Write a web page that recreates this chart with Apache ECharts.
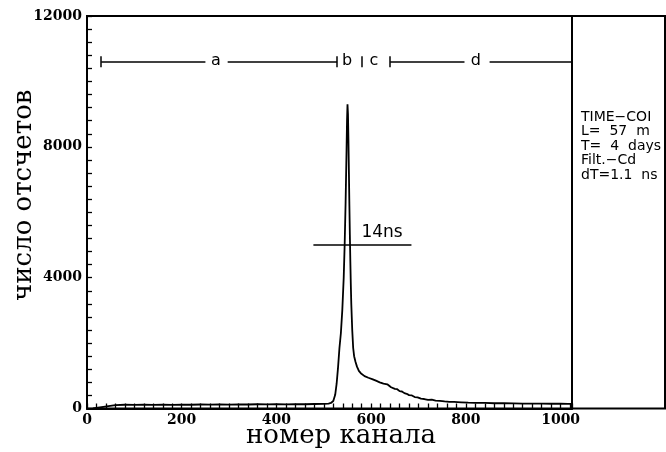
<!DOCTYPE html>
<html><head><meta charset="utf-8">
<script src="https://cdn.jsdelivr.net/npm/echarts@6/dist/echarts.min.js"></script>
<style>html,body{margin:0;padding:0;background:#fff}#c{width:666px;height:452px}</style>
</head><body><div id="c"></div>
<script>
// ---- data ----
const channels = [12,14,38,40,60,80,100,120,140,160,180,200,220,240,260,280,300,320,340,360,380,400,420,440,460,480,500,510,515,520,524,527,530,533,536,539,542,544,546,548,549,550,551,552,553,554,555,556,557,558,559,560,562,564,567,570,574,578,582,586,590,594,598,602,606,610,614,618,622,626,630,634,638,642,646,650,655,660,665,670,675,680,686,692,698,705,712,720,728,736,745,755,765,775,790,805,820,840,860,880,900,920,940,960,980,1000,1015,1022];
const counts   = [0,60,60,110,105,115,110,120,110,118,112,120,115,122,118,125,120,128,122,130,125,132,128,135,130,138,140,150,170,230,420,750,1250,1850,2300,3000,4000,5000,6300,7900,8800,9300,9000,8200,7200,6200,5300,4500,3800,3200,2800,2400,1850,1600,1420,1280,1150,1080,1040,990,960,940,960,900,880,850,870,800,790,760,720,740,680,650,670,600,590,530,520,470,450,410,400,350,340,300,290,265,270,240,230,215,205,200,190,180,175,170,160,160,155,150,150,148,145,145,140,140];
const xTickLabels = [0,200,400,600,800,1000];
const yTickLabels = [0,4000,8000,12000];
const xTitle = 'номер канала';
const yTitle = 'число отсчетов';
// FWHM annotation
const fwhmFrom = 478, fwhmTo = 685, fwhmLevel = 5000, fwhmText = '14ns', fwhmTextAt = 623;
// region bar
const regionLevel = 10600;
const regionSegments = [[30,250],[297,528],[640,797],[850,1024]];
const regionCaps = [30,528,581,640];
const regionNames = ['a','b','c','d'];
const regionNameAt = [272,549,606,821];
const infoLines = ['TIME\u2212COI','L=  57  m','T=  4  days','Filt.\u2212Cd','dT=1.1  ns'];
const xEnd = 1024;

// ---- chart ----
const chart = echarts.init(document.getElementById('c'), null, {renderer:'canvas'});
const seriesData = channels.map((c,i)=>[c, counts[i]]);
const mlData = [];
regionSegments.forEach(s=>mlData.push([{coord:[s[0],regionLevel]},{coord:[s[1],regionLevel]}]));
regionCaps.forEach(c=>mlData.push([{coord:[c,regionLevel-170]},{coord:[c,regionLevel+170]}]));
mlData.push([{coord:[fwhmFrom,fwhmLevel]},{coord:[fwhmTo,fwhmLevel]}]);
const mpData = regionNames.map((n,i)=>({name:n, coord:[regionNameAt[i], regionLevel], label:{formatter:n, fontSize:16, offset:[0,-1]}}));
mpData.push({name:fwhmText, coord:[fwhmTextAt, fwhmLevel], label:{formatter:fwhmText, fontSize:17, offset:[0,-12]}});

const labelStyle = {fontFamily:'DejaVu Serif', fontWeight:'bold', fontSize:14, color:'#000'};
const titleFont = {fontFamily:'DejaVu Serif', fontSize:26, color:'#000'};

chart.setOption({
  animation:false,
  backgroundColor:'#fff',
  grid:[
    {left:87, top:16, width:485, bottom:43.5, show:true, borderColor:'#000', borderWidth:2, backgroundColor:'transparent', containLabel:false, outerBoundsMode:'none'},
    {left:572, top:16, right:1, bottom:43.5, show:true, borderColor:'#000', borderWidth:2, backgroundColor:'transparent', containLabel:false, outerBoundsMode:'none'}
  ],
  xAxis:[
    {gridIndex:0, type:'value', min:0, max:xEnd, interval:20,
     axisLine:{lineStyle:{color:'#000', width:2}},
     axisTick:{inside:true, length:5, lineStyle:{color:'#000', width:1.3}},
     splitLine:{show:false},
     axisLabel:{...labelStyle, margin:5, formatter:v=>xTickLabels.includes(v)?String(v):''},
     name:xTitle, nameLocation:'middle', nameGap:15, nameMoveOverlap:false,
     nameTextStyle:{...titleFont, padding:[0,0,0,23]}},
    {gridIndex:1, type:'value', show:false, min:0, max:1}
  ],
  yAxis:[
    {gridIndex:0, type:'value', min:0, max:12000, interval:400,
     axisLine:{lineStyle:{color:'#000', width:2}},
     axisTick:{inside:true, length:5, lineStyle:{color:'#000', width:1.3}},
     splitLine:{show:false},
     axisLabel:{...labelStyle, margin:5, formatter:v=>yTickLabels.includes(v)?String(v):''},
     name:yTitle, nameLocation:'middle', nameGap:50, nameMoveOverlap:false,
     nameTextStyle:{...titleFont, padding:[0,0,0,34]}},
    {gridIndex:1, type:'value', show:false, min:0, max:1}
  ],
  graphic:[{type:'text', left:581, top:110, silent:true,
    style:{text:infoLines.join('\n'), font:'14px "DejaVu Sans"', lineHeight:14.5, fill:'#000'}}],
  series:[{
    type:'line', xAxisIndex:0, yAxisIndex:0, data:seriesData,
    symbol:'none', showSymbol:false,
    lineStyle:{color:'#000', width:1.8},
    markLine:{silent:true, symbol:['none','none'], label:{show:false},
      lineStyle:{color:'#000', width:1.5, type:'solid'}, emphasis:{disabled:true}, data:mlData},
    markPoint:{silent:true, symbol:'circle', symbolSize:0,
      label:{show:true, position:'inside', color:'#000', fontFamily:'DejaVu Sans'}, data:mpData}
  }]
});
</script></body></html>
